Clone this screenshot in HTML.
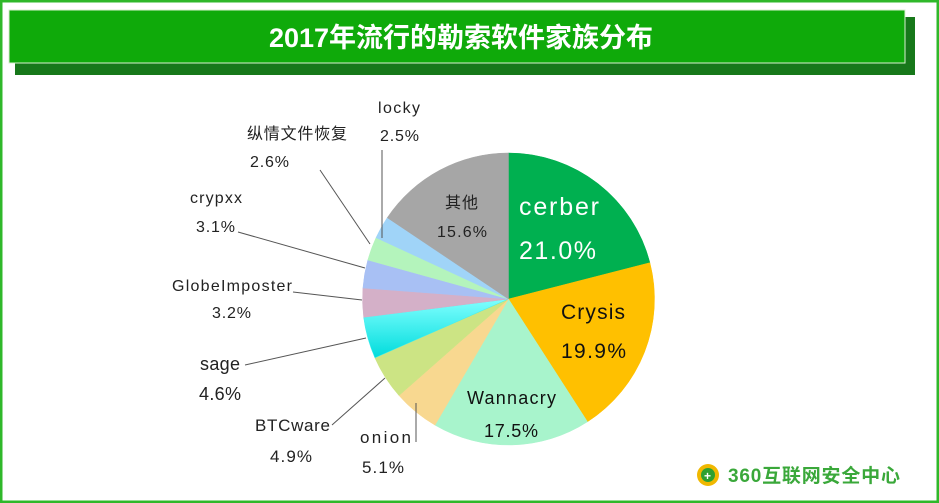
<!DOCTYPE html>
<html><head><meta charset="utf-8"><style>
body{margin:0;background:#fff;}
#w{position:relative;width:939px;height:503px;overflow:hidden;font-family:"Liberation Sans","Noto Sans CJK SC",sans-serif;}
</style></head><body><div id="w">
<svg width="939" height="503" viewBox="0 0 939 503" xmlns="http://www.w3.org/2000/svg" font-family="Liberation Sans, Noto Sans CJK SC, sans-serif">
<defs>
<linearGradient id="cy" x1="0" y1="0" x2="0" y2="1"><stop offset="0" stop-color="#80ffff"/><stop offset="1" stop-color="#00dcdc"/></linearGradient>
</defs>
<rect x="1" y="1" width="937" height="501" fill="#fff" stroke="#2fb82a" stroke-width="3"/>
<rect x="15" y="17" width="900" height="58" fill="#17781a"/>
<rect x="9" y="10" width="896" height="53" fill="#0faa0a" stroke="#d8f0d0" stroke-width="1"/>
<text x="461" y="47" fill="#fff" font-size="27" font-weight="bold" text-anchor="middle">2017年流行的勒索软件家族分布</text>
<g id="pie"></g>
<g stroke="#555" stroke-width="1" fill="none">
<line x1="382" y1="150" x2="382" y2="238"/>
<line x1="320" y1="170" x2="370" y2="244"/>
<line x1="238" y1="232" x2="365" y2="268"/>
<line x1="293" y1="292" x2="362" y2="300"/>
<line x1="245" y1="365" x2="366" y2="338"/>
<line x1="332" y1="425" x2="385" y2="378"/>
<line x1="416" y1="403" x2="416" y2="442"/>
</g>
<g font-size="16" fill="#222">
<text x="378" y="113" textLength="42">locky</text><text x="380" y="141" textLength="39">2.5%</text>
<text x="247" y="139" textLength="100">纵情文件恢复</text><text x="250" y="167" textLength="39">2.6%</text>
<text x="190" y="203" textLength="52">crypxx</text><text x="196" y="232" textLength="39">3.1%</text>
<text x="172" y="291" textLength="120">GlobeImposter</text><text x="212" y="318" textLength="39">3.2%</text>
<text x="200" y="370" font-size="18" textLength="40">sage</text><text x="199" y="400" font-size="18" textLength="42">4.6%</text>
<text x="255" y="431" font-size="17" textLength="75">BTCware</text><text x="270" y="462" font-size="17" textLength="42">4.9%</text>
<text x="360" y="443" font-size="17" textLength="51">onion</text><text x="362" y="473" font-size="17" textLength="42">5.1%</text>
<text x="445" y="208" textLength="33">其他</text><text x="437" y="237" textLength="50">15.6%</text>
</g>
<text x="519" y="215" font-size="25" fill="#fff" textLength="80">cerber</text>
<text x="519" y="259" font-size="25" fill="#fff" textLength="77">21.0%</text>
<text x="561" y="319" font-size="21" fill="#111" textLength="64">Crysis</text>
<text x="561" y="358" font-size="21" fill="#111" textLength="65">19.9%</text>
<text x="467" y="404" font-size="18" fill="#111" textLength="89">Wannacry</text>
<text x="484" y="437" font-size="18" fill="#111" textLength="54">17.5%</text>
<circle cx="708" cy="475" r="11" fill="#f0b800"/>
<circle cx="708" cy="475" r="7" fill="#2fa030"/>
<text x="704" y="480" font-size="12" fill="#fff" font-weight="bold">+</text>
<text x="728" y="482" font-size="19" fill="#3aa83a" font-weight="bold" textLength="172">360互联网安全中心</text>
</svg>
<script>
var d=[[21.0,"#00b050"],[19.9,"#ffc000"],[17.5,"#a8f4cc"],[5.1,"#f8d890"],[4.9,"#cce484"],[4.6,"url(#cy)"],[3.2,"#d4b0c8"],[3.1,"#a8c0f4"],[2.6,"#b4f4bc"],[2.5,"#a0d4f8"],[15.6,"#a6a6a6"]];
var cx=508.5,cy=299,r=146,a=0,s="";
d.forEach(function(e){var a1=a+e[0]/100*2*Math.PI;
var x0=cx+r*Math.sin(a),y0=cy-r*Math.cos(a),x1=cx+r*Math.sin(a1),y1=cy-r*Math.cos(a1);
s+='<path d="M'+cx+','+cy+'L'+x0+','+y0+'A'+r+','+r+' 0 '+(a1-a>Math.PI?1:0)+' 1 '+x1+','+y1+'Z" fill="'+e[1]+'" stroke="'+(e[1].charAt(0)=="#"?e[1]:"#40eeee")+'" stroke-width="0.5"/>';a=a1;});
document.getElementById("pie").innerHTML=s;
</script>
</div></body></html>
